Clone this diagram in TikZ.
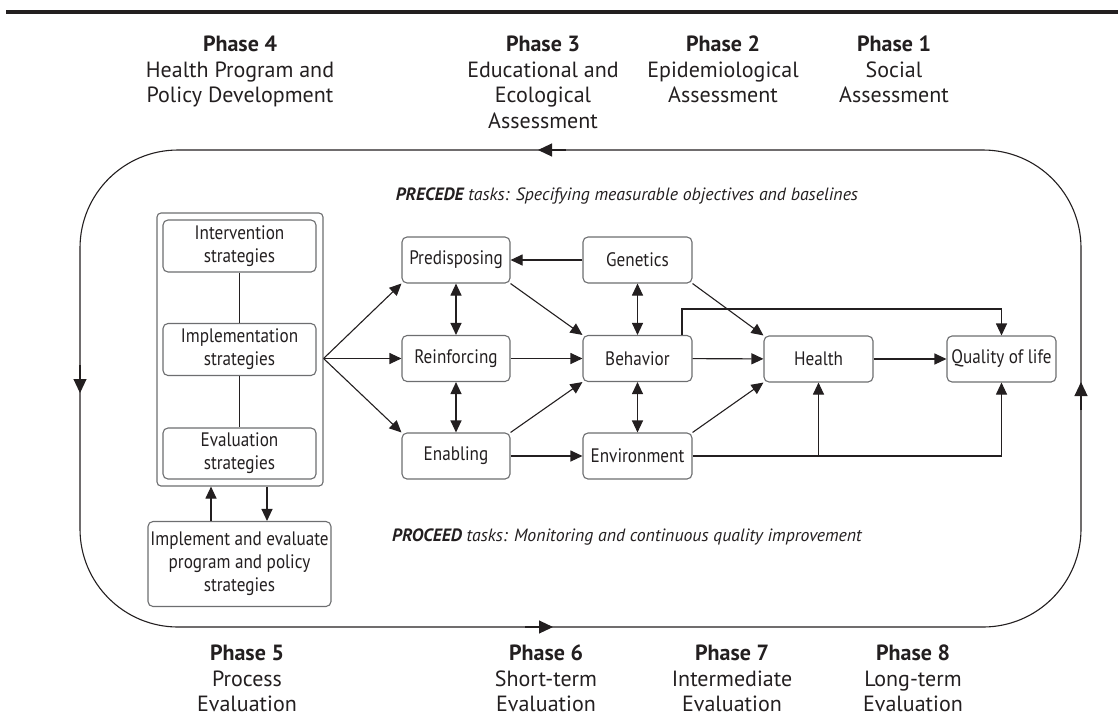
\documentclass[tikz,border=0pt]{standalone}
\usepackage{fontspec}
\setmainfont{PT Sans}
\newfontfamily\boxfont{PT Sans}[FakeStretch=0.88]
\usetikzlibrary{arrows.meta,calc}
\definecolor{ink}{HTML}{231F20}
\definecolor{frame}{HTML}{6D6E70}

\begin{document}
\begin{tikzpicture}[x=1pt,y=-1pt,
  box/.style={draw=frame, line width=1.1pt, rounded corners=5pt, fill=white,
    text=ink, font=\boxfont\fontsize{19.5}{23}\selectfont, align=center,
    inner sep=0pt, minimum width=108pt, minimum height=46pt},
  stratbox/.style={box, minimum width=153pt, minimum height=52pt},
  phase/.style={text=ink, font=\fontsize{22}{25.5}\selectfont, align=center,
    anchor=north, inner sep=0pt},
  note/.style={text=ink, font=\itshape\fontsize{17.8}{20}\selectfont, inner sep=0pt},
  link/.style={draw=ink, line width=1.1pt},
  arr/.style={link, -{Triangle[length=12pt,width=11pt]}},
  biarr/.style={link, {Triangle[length=12pt,width=11pt]}-{Triangle[length=12pt,width=11pt]}},
  looparr/.style={link, -{Triangle[length=14pt,width=13pt]}}
]
\useasboundingbox (0,0) rectangle (1118,724);

% rule across the top
\draw[line width=3.2pt, ink] (6,12) -- (1118,12);

% phase headings
\node[phase] (ph4) at (240,36) {\textbf{Phase 4}\\Health Program and\\Policy Development};
\node[phase] (ph3) at (543,36) {\textbf{Phase 3}\\Educational and\\Ecological\\Assessment};
\node[phase] (ph2) at (723,36) {\textbf{Phase 2}\\Epidemiological\\Assessment};
\node[phase] (ph1) at (894,36) {\textbf{Phase 1}\\Social\\Assessment};

\node[phase] (ph5) at (247,645) {\textbf{Phase 5}\\Process\\Evaluation};
\node[phase] (ph6) at (546,645) {\textbf{Phase 6}\\Short-term\\Evaluation};
\node[phase] (ph7) at (732,645) {\textbf{Phase 7}\\Intermediate\\Evaluation};
\node[phase] (ph8) at (913,645) {\textbf{Phase 8}\\Long-term\\Evaluation};

% the PRECEDE-PROCEED cycle
\draw[link] (80,150) [rounded corners=98pt] rectangle (1081,627);
\coordinate (topA) at (566,150);  \coordinate (topB) at (538,150);
\coordinate (botA) at (525,627);  \coordinate (botB) at (553,627);
\coordinate (lefA) at (80,365);   \coordinate (lefB) at (80,393);
\coordinate (rigA) at (1081,410); \coordinate (rigB) at (1081,382);
\draw[looparr] (topA) -- (topB);
\draw[looparr] (botA) -- (botB);
\draw[looparr] (lefA) -- (lefB);
\draw[looparr] (rigA) -- (rigB);

\node[note] (precede) at (627,196) {\textbf{PRECEDE} tasks: Specifying measurable objectives and baselines};
\node[note] (proceed) at (627,537) {\textbf{PROCEED} tasks: Monitoring and continuous quality improvement};

% strategy column
\node[box, rounded corners=4pt, minimum width=166pt, minimum height=273pt] (outer) at (240,349.5) {};
\node[stratbox] (interv) at (239.5,246) {Intervention\\strategies};
\node[stratbox] (impl) at (239.5,349.5) {Implementation\\strategies};
\node[stratbox, minimum height=51pt] (evals) at (239.5,453.5) {Evaluation\\strategies};
\node[box, minimum width=183pt, minimum height=85pt] (impev) at (239.5,564) {Implement and evaluate\\program and policy\\strategies};

\draw[link] (interv) -- (impl);
\draw[link] (impl) -- (evals);
\coordinate (upx) at (211,0);
\coordinate (dnx) at (267,0);
\draw[arr] (impev.north -| upx) -- (outer.south -| upx);
\draw[arr] (outer.south -| dnx) -- (impev.north -| dnx);

% determinants
\node[box] (pred)  at (456,260)   {Predisposing};
\node[box] (reinf) at (456,358.5) {Reinforcing};
\node[box] (enab)  at (456,456)   {Enabling};
\node[box, minimum width=109pt] (genet) at (637.5,260)   {Genetics};
\node[box, minimum width=109pt] (behav) at (637.5,358.5) {Behavior};
\node[box, minimum width=109pt] (envir) at (637.5,456)   {Environment};
\node[box, minimum width=109pt] (health) at (818.5,359)  {Health};
\node[box, minimum width=109pt] (qol)    at (1001.5,359) {Quality of life};

\coordinate (fan) at (outer.east |- reinf);
\draw[arr] (fan) -- (pred.south west);
\draw[arr] (fan) -- (reinf.west);
\draw[arr] (fan) -- (enab.north west);

\draw[biarr] (pred) -- (reinf);
\draw[biarr] (reinf) -- (enab);
\draw[biarr] (genet) -- (behav);
\draw[biarr] (behav) -- (envir);

\draw[arr] (genet) -- (pred);
\draw[arr] (pred.south east) -- (behav.north west);
\draw[arr] (reinf) -- (behav);
\draw[arr] (enab.north east) -- (behav.south west);
\draw[arr] (enab.east |- envir) -- (envir.west);

\draw[arr] (genet.south east) -- (health.north west);
\draw[arr] (behav) -- (health);
\draw[arr] (envir.north east) -- (health.south west);
\draw[arr] (health) -- (qol);

\coordinate (bq) at (682,309);
\draw[arr] (behav.north -| bq) -- (bq) -| (qol.north);
\draw[arr] (envir.east) -| (qol.south);
\draw[arr] (envir.east -| health.south) -- (health.south);
\end{tikzpicture}
\end{document}
